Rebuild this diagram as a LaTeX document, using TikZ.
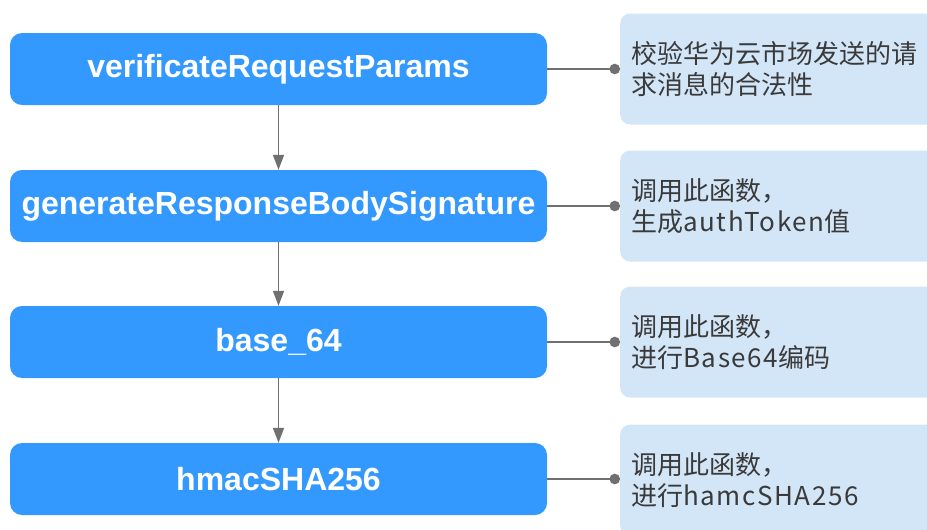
\documentclass[tikz,border=0pt]{standalone}
\usepackage{fontspec}
\setmainfont{Liberation Sans}
\newfontfamily\cjk{Noto Sans CJK SC}
\newfontfamily\cjkwide[LetterSpace=6]{Noto Sans CJK SC}
\newcommand{\wide}[1]{{\cjkwide #1}}
\usetikzlibrary{arrows.meta}
\definecolor{fnblue}{HTML}{3399FF}
\definecolor{notebg}{HTML}{D3E6F8}
\definecolor{linegray}{HTML}{707070}
\definecolor{notetext}{HTML}{3A3A3A}
\begin{document}
\begin{tikzpicture}[x=1pt,y=-1pt,
  fnbox/.style={fill=fnblue,rounded corners=12pt,minimum width=537pt,minimum height=72pt,
    inner sep=0pt,text=white,font=\fontsize{32}{34}\selectfont\bfseries},
  notebox/.style={fill=notebg,rounded corners=10pt,minimum width=330pt,minimum height=111pt,
    anchor=west,inner xsep=11pt,text width=308pt,align=left,text=notetext,
    font=\cjk\fontsize{26}{31}\selectfont},
  flow/.style={draw=linegray,line width=1.6pt,-{Triangle[length=15pt,width=11pt]}},
  link/.style={draw=linegray,line width=1.8pt,-{Circle[length=10.5pt]}}]
\clip (0,0) rectangle (927,530);
\fill[white] (0,0) rectangle (927,530);
\node[fnbox] (f1) at (278.5,69) {verificateRequestParams};
\node[fnbox] (f2) at (278.5,206) {generateResponseBodySignature};
\node[fnbox] (f3) at (278.5,342) {base\_64};
\node[fnbox] (f4) at (278.5,479) {hmacSHA256};
\node[notebox] (n1) at (620,69) {校验华为云市场发送的请\\求消息的合法性};
\node[notebox] (n2) at (620,206) {调用此函数，\\生成\wide{authToken}值};
\node[notebox] (n3) at (620,342) {调用此函数，\\进行\wide{Base64}编码};
\node[notebox] (n4) at (620,480) {调用此函数，\\进行\wide{hamcSHA256}};
\draw[flow] (f1) -- (f2);
\draw[flow] (f2) -- (f3);
\draw[flow] (f3) -- (f4);
\draw[link] (f1.east) -- (n1.west);
\draw[link] (f2.east) -- (n2.west);
\draw[link] (f3.east) -- (n3.west);
\draw[link] (f4.east) -- (n4.west |- f4.east);
\end{tikzpicture}
\end{document}
